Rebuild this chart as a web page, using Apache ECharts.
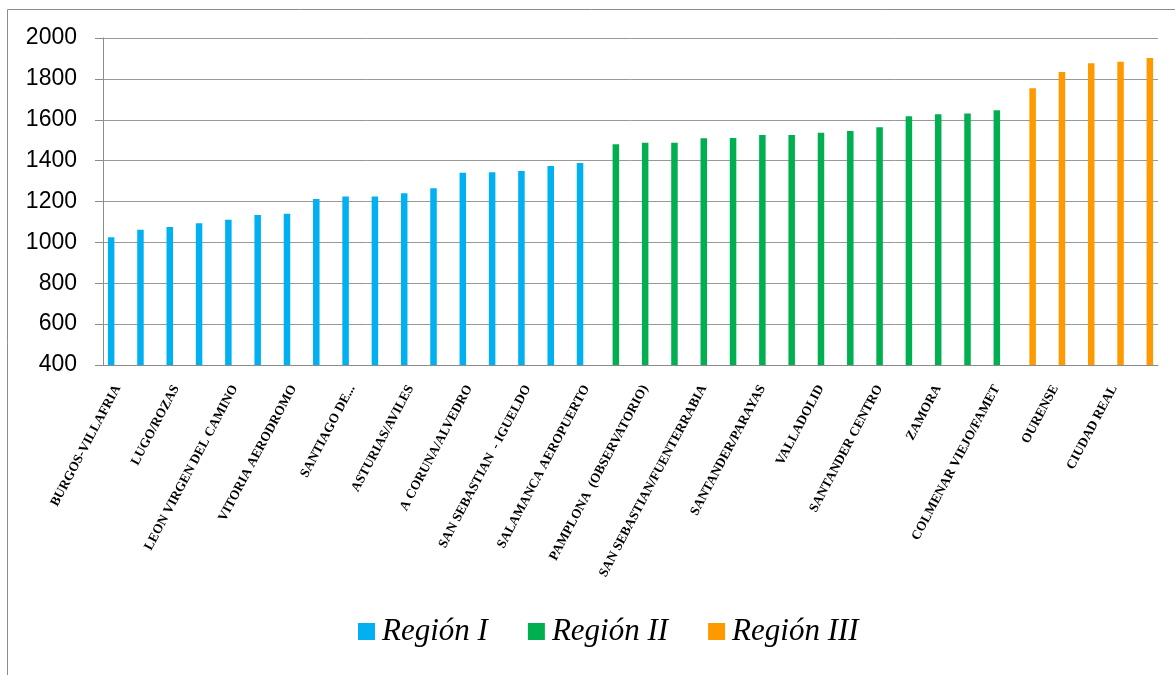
<!DOCTYPE html>
<html>
<head>
<meta charset="utf-8">
<script src="https://cdn.jsdelivr.net/npm/echarts@6/dist/echarts.min.js"></script>
<style>
  html, body { margin: 0; padding: 0; background: #fff; }
  #chart { width: 1175px; height: 675px; }
</style>
</head>
<body>
<div id="chart"></div>
<script>
// station names; only every other one is printed on the axis, the rest are unreadable
const categories = [
  'BURGOS-VILLAFRIA', '', 'LUGO/ROZAS', '', 'LEON VIRGEN DEL CAMINO', '',
  'VITORIA AERODROMO', '', 'SANTIAGO DE...', '', 'ASTURIAS/AVILES', '',
  'A CORUNA/ALVEDRO', '', 'SAN SEBASTIAN  - IGUELDO', '', 'SALAMANCA AEROPUERTO', '',
  'PAMPLONA  (OBSERVATORIO)', '', 'SAN SEBASTIAN/FUENTERRABIA', '', 'SANTANDER/PARAYAS', '',
  'VALLADOLID', '', 'SANTANDER CENTRO', '', 'ZAMORA', '',
  'COLMENAR VIEJO/FAMET', '', 'OURENSE', '', 'CIUDAD REAL', ''
];

const regionI = [1025, 1062, 1075, 1093, 1111, 1134, 1140, 1212, 1225, 1225,
  1240, 1265, 1341, 1343, 1349, 1374, 1388];
const regionII = [1480, 1488, 1488, 1509, 1511, 1525, 1525, 1537, 1545, 1563,
  1617, 1627, 1630, 1646];
const regionIII = [1754, 1834, 1876, 1884, 1902];

const yTicks = [400, 600, 800, 1000, 1200, 1400, 1600, 1800, 2000];

// place each region's values on its own stretch of the category axis
const pad = (values, start) =>
  categories.map((_, i) => (i >= start && i < start + values.length ? values[i - start] : '-'));

const regions = [
  { name: 'Región I', color: '#00b0f0', data: pad(regionI, 0) },
  { name: 'Región II', color: '#00b050', data: pad(regionII, regionI.length) },
  { name: 'Región III', color: '#ff9900', data: pad(regionIII, regionI.length + regionII.length) },
];

const chart = echarts.init(document.getElementById('chart'));

chart.setOption({
  backgroundColor: '#fff',
  animation: false,
  graphic: [{
    type: 'rect',
    shape: { x: 7.5, y: 9.5, width: 1200, height: 700 },
    style: { fill: 'none', stroke: '#8c8c8c', lineWidth: 1 },
    silent: true,
  }],
  legend: {
    left: 358,
    top: 616,
    padding: 0,
    itemWidth: 17,
    itemHeight: 17,
    itemGap: 40,
    icon: 'rect',
    textStyle: {
      fontFamily: 'Liberation Serif',
      fontStyle: 'italic',
      fontSize: 31,
      color: '#000',
      padding: [0, 0, 0, 2],
    },
    data: regions.map((r) => r.name),
  },
  grid: {
    left: 103,
    right: 17,
    top: 38,
    bottom: 310,
  },
  xAxis: {
    type: 'category',
    data: categories,
    axisLine: { lineStyle: { color: '#8c8c8c' } },
    axisTick: { interval: 0, length: 5, lineStyle: { color: '#8c8c8c' } },
    axisLabel: {
      interval: 1,
      rotate: 62,
      margin: 21,
      color: '#000',
      fontFamily: 'Liberation Serif',
      fontWeight: 'bold',
      fontSize: 13.3,
    },
  },
  yAxis: {
    type: 'value',
    min: yTicks[0],
    max: yTicks[yTicks.length - 1],
    interval: 200,
    axisLine: { show: true, lineStyle: { color: '#8c8c8c' } },
    axisTick: { show: true, length: 8, lineStyle: { color: '#8c8c8c' } },
    splitLine: { lineStyle: { color: '#999' } },
    axisLabel: {
      margin: 26,
      color: '#000',
      fontFamily: 'Liberation Sans',
      fontSize: 23,
      formatter: (v) => String(v),
    },
  },
  series: regions.map((r) => ({
    name: r.name,
    type: 'bar',
    data: r.data,
    barWidth: 6.5,
    barGap: '0%',
    itemStyle: { color: r.color },
  })),
});
</script>
</body>
</html>
